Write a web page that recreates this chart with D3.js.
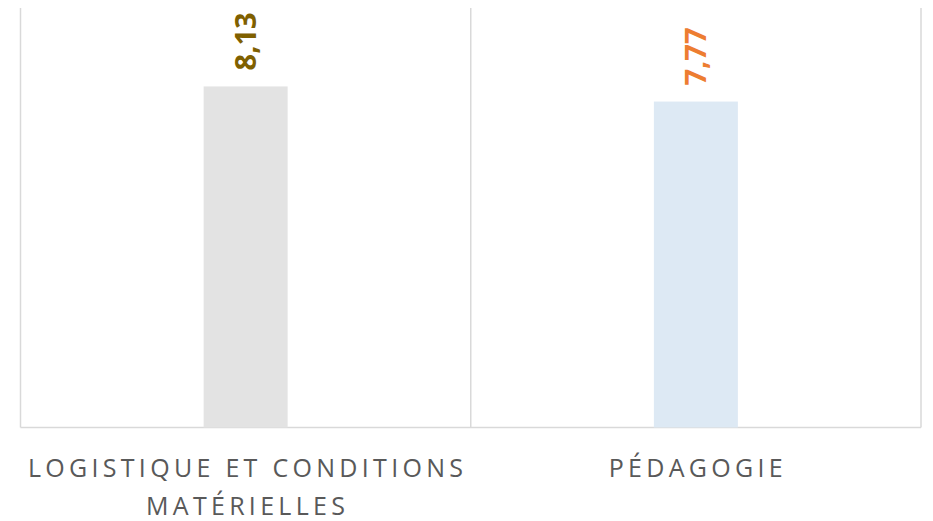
<!DOCTYPE html>
<html><head><meta charset="utf-8">
<script src="https://cdn.jsdelivr.net/npm/d3@7"></script>
<style>html,body{margin:0;padding:0;background:#fff;}</style>
</head><body>
<svg id="chart" width="933" height="521"></svg>
<script>
const categories = ["LOGISTIQUE ET CONDITIONS MATÉRIELLES", "PÉDAGOGIE"];
const categoryLines = [["LOGISTIQUE ET CONDITIONS", "MATÉRIELLES"], ["PÉDAGOGIE"]];
const values = [8.13, 7.77];
const valueLabels = ["8,13", "7,77"];
const barColors = ["#e3e3e3", "#dde9f4"];
const labelColors = ["#7f6000", "#ed7d31"];
const yDomain = [0, 10];

const svg = d3.select("#chart");
const mLeft = 20.5, mRight = 921, mTop = 8, mBottom = 427.5;

const x = d3.scaleBand().domain(categories).range([mLeft, mRight]).paddingInner(0).paddingOuter(0);
const y = d3.scaleLinear().domain(yDomain).range([mBottom, mTop]);

// vertical category separators
const bounds = [mLeft, ...categories.map(c => x(c) + x.bandwidth())];
svg.append("g").selectAll("line").data(bounds).join("line")
  .attr("x1", d => d).attr("x2", d => d)
  .attr("y1", mTop).attr("y2", mBottom)
  .attr("stroke", "#d9d9d9").attr("stroke-width", 1.5);

// baseline
svg.append("line").attr("x1", mLeft).attr("x2", mRight)
  .attr("y1", mBottom).attr("y2", mBottom)
  .attr("stroke", "#d9d9d9").attr("stroke-width", 1.5);

const barW = 84;
svg.append("g").selectAll("rect").data(values).join("rect")
  .attr("x", (d, i) => x(categories[i]) + x.bandwidth() / 2 - barW / 2)
  .attr("width", barW)
  .attr("y", d => y(d))
  .attr("height", d => y(0) - y(d))
  .attr("fill", (d, i) => barColors[i]);

// value labels (rotated)
svg.append("g").selectAll("text").data(values).join("text")
  .attr("transform", (d, i) => `translate(${x(categories[i]) + x.bandwidth() / 2},${y(d) - 16}) rotate(-90)`)
  .attr("dy", "0.36em")
  .attr("text-anchor", "start")
  .attr("font-family", "'Open Sans', sans-serif")
  .attr("font-weight", "bold")
  .attr("font-size", 29)
  .attr("fill", (d, i) => labelColors[i])
  .text((d, i) => valueLabels[i]);

// category labels
const lab = svg.append("g").selectAll("text").data(categories).join("text")
  .attr("x", d => x(d) + x.bandwidth() / 2)
  .attr("y", 477)
  .attr("text-anchor", "middle")
  .attr("font-family", "'Open Sans', sans-serif")
  .attr("font-size", 25)
  .attr("letter-spacing", 4.3)
  .attr("fill", "#595959");
lab.each(function(d, i) {
  const t = d3.select(this);
  categoryLines[i].forEach((line, j) => {
    t.append("tspan").attr("x", x(d) + x.bandwidth() / 2 + 2).attr("dy", j === 0 ? 0 : 38).text(line);
  });
});
</script>
</body></html>
